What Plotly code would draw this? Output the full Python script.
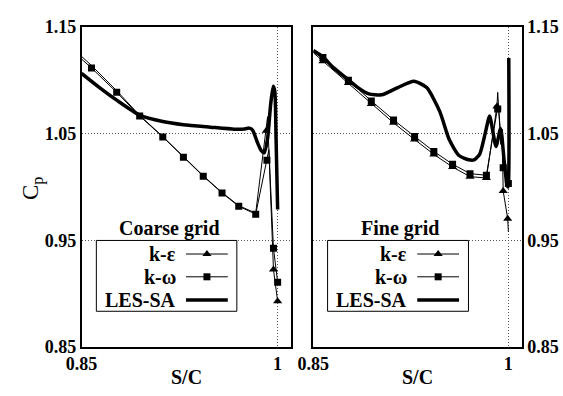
import plotly.graph_objects as go

# ---------------- data ----------------
# Coarse grid (left panel)
coarse_les_x = [0.85, 0.8635, 0.8769, 0.8945, 0.9122, 0.928, 0.9486, 0.967, 0.975, 0.9785,
                0.981, 0.9845, 0.9875, 0.990, 0.9925, 0.9948, 0.9968, 0.998, 0.999, 1.0002]
coarse_les_y = [1.1066, 1.0935, 1.0815, 1.0675, 1.0615, 1.0585, 1.0562, 1.0543, 1.0545, 1.0553,
                1.0535, 1.0425, 1.0345, 1.0322, 1.0455, 1.077, 1.0945, 1.09, 1.045, 0.979]

coarse_kw_x = [0.85, 0.8576, 0.8769, 0.8945, 0.9122, 0.928, 0.9432, 0.9576, 0.9704, 0.9834,
               0.992, 0.9935, 0.997, 1.0002]
coarse_kw_y = [1.12, 1.1117, 1.0888, 1.0666, 1.0470, 1.028, 1.0102, 0.9945, 0.982, 0.9746,
               1.0251, 1.035, 0.9426, 0.9108]
coarse_kw_mx = [0.8576, 0.8769, 0.8945, 0.9122, 0.928, 0.9432, 0.9576, 0.9704, 0.9834,
                0.992, 0.997, 1.0002]
coarse_kw_my = [1.1117, 1.0888, 1.0666, 1.0470, 1.028, 1.0102, 0.9945, 0.982, 0.9746,
                1.0251, 0.9426, 0.9108]

coarse_ke_x = [0.85, 0.8576, 0.8769, 0.8945, 0.9122, 0.928, 0.9432, 0.9576, 0.9704, 0.9834,
               0.9915, 0.9925, 0.997, 1.0002]
coarse_ke_y = [1.1225, 1.114, 1.0903, 1.0672, 1.0474, 1.0284, 1.0106, 0.9949, 0.9826, 0.9756,
               1.0527, 1.066, 0.9227, 0.893]
coarse_ke_mx = [0.9915, 0.997, 1.0002]
coarse_ke_my = [1.0527, 0.9227, 0.893]

# Fine grid (right panel)
fine_les_x = [0.85, 0.8574, 0.865, 0.877, 0.8846, 0.8926, 0.9025, 0.915, 0.9273, 0.9372,
              0.9472, 0.9546, 0.962, 0.9695, 0.9735, 0.978, 0.9825, 0.9856, 0.9905, 0.994,
              0.9968, 0.9988, 0.9998, 1.0003]
fine_les_y = [1.128, 1.122, 1.1125, 1.1005, 1.093, 1.0874, 1.0865, 1.0933, 1.0993, 1.0933,
              1.071, 1.0443, 1.0296, 1.0256, 1.0255, 1.031, 1.052, 1.0666, 1.038, 1.055,
              1.024, 1.003, 1.0, 1.121]

fine_kw_x = [0.85, 0.8574, 0.877, 0.8946, 0.9117, 0.9279, 0.9427, 0.9571, 0.9705, 0.9831,
             0.9918, 0.9922, 0.9945, 0.9955, 0.996, 1.0]
fine_kw_y = [1.1275, 1.1215, 1.1001, 1.0808, 1.063, 1.0474, 1.0334, 1.0215, 1.0126, 1.0111,
             1.0732, 1.078, 1.043, 1.054, 1.0182, 1.0034]
fine_kw_mx = [0.8574, 0.877, 0.8946, 0.9117, 0.9279, 0.9427, 0.9571, 0.9705, 0.9831,
              0.9918, 0.996, 1.0]
fine_kw_my = [1.1215, 1.1001, 1.0808, 1.063, 1.0474, 1.0334, 1.0215, 1.0126, 1.0111,
              1.0732, 1.0182, 1.0034]

fine_ke_x = [0.85, 0.8574, 0.877, 0.8946, 0.9117, 0.9279, 0.9427, 0.9571, 0.9705, 0.9831,
             0.9912, 0.9918, 0.9942, 0.9952, 0.996, 0.9995, 1.0]
fine_ke_y = [1.126, 1.118, 1.0975, 1.078, 1.0602, 1.0446, 1.0306, 1.0188, 1.0098, 1.0085,
             1.0755, 1.0888, 1.04, 1.052, 0.9963, 0.9702, 0.958]
fine_ke_mx = [0.8574, 0.877, 0.8946, 0.9117, 0.9279, 0.9427, 0.9571, 0.9705, 0.9831,
              0.9912, 0.996, 0.9995]
fine_ke_my = [1.118, 1.0975, 1.078, 1.0602, 1.0446, 1.0306, 1.0188, 1.0098, 1.0085,
              1.0755, 0.9963, 0.9702]

x_ticks = [0.85, 1.0]
x_ticktext = ["0.85", "1"]
y_ticks = [0.85, 0.95, 1.05, 1.15]
y_ticktext = ["0.85", "0.95", "1.05", "1.15"]
series_names = ["k-ε", "k-ω", "LES-SA"]
panel_titles = ["Coarse grid", "Fine grid"]

# ---------------- figure ----------------
W, H = 563, 396
FONT = "Liberation Serif"
fig = go.Figure()

def add_panel(xa, ya, ke, ke_m, kw, kw_m, les):
    fig.add_trace(go.Scatter(x=ke[0], y=ke[1], mode="lines", line=dict(color="black", width=1),
                             xaxis=xa, yaxis=ya, showlegend=False, hoverinfo="skip"))
    fig.add_trace(go.Scatter(x=ke_m[0], y=ke_m[1], mode="markers",
                             marker=dict(symbol="triangle-up", size=8, color="black"),
                             xaxis=xa, yaxis=ya, showlegend=False, hoverinfo="skip"))
    fig.add_trace(go.Scatter(x=kw[0], y=kw[1], mode="lines", line=dict(color="black", width=1),
                             xaxis=xa, yaxis=ya, showlegend=False, hoverinfo="skip"))
    fig.add_trace(go.Scatter(x=kw_m[0], y=kw_m[1], mode="markers",
                             marker=dict(symbol="square", size=7, color="black"),
                             xaxis=xa, yaxis=ya, showlegend=False, hoverinfo="skip"))
    fig.add_trace(go.Scatter(x=les[0], y=les[1], mode="lines",
                             line=dict(color="black", width=3.5, shape="spline", smoothing=0.6),
                             xaxis=xa, yaxis=ya, showlegend=False, hoverinfo="skip"))

add_panel("x", "y", (coarse_ke_x, coarse_ke_y), (coarse_ke_mx, coarse_ke_my),
          (coarse_kw_x, coarse_kw_y), (coarse_kw_mx, coarse_kw_my), (coarse_les_x, coarse_les_y))
add_panel("x2", "y2", (fine_ke_x, fine_ke_y), (fine_ke_mx, fine_ke_my),
          (fine_kw_x, fine_kw_y), (fine_kw_mx, fine_kw_my), (fine_les_x, fine_les_y))

# legend boxes drawn in a pixel overlay axis (x3/y3)
legend_cfg = [
    dict(box=(82.7, 227.3), label_right=166.7, key=(175, 218), title_x=157.7),
    dict(box=(320.7, 465.7), label_right=405, key=(413, 456), title_x=395),
]
row_y = [257, 281, 305.5]
box_y = (242.7, 317.3)
title_y = 230
tfont = dict(family=FONT, size=18, color="black", weight="bold")
lfont = dict(family=FONT, size=20, color="black", weight="bold")

annotations = []
shapes = []
for p, cfg in enumerate(legend_cfg):
    shapes.append(dict(type="rect", xref="x3", yref="y3", x0=cfg["box"][0], x1=cfg["box"][1],
                       y0=box_y[0], y1=box_y[1], line=dict(color="black", width=1),
                       fillcolor="white", layer="below"))
    annotations.append(dict(xref="x3", yref="y3", x=cfg["title_x"], y=title_y, text=panel_titles[p],
                            showarrow=False, font=lfont, xanchor="center", yanchor="middle"))
    for i, name in enumerate(series_names):
        annotations.append(dict(xref="x3", yref="y3", x=cfg["label_right"], y=row_y[i], text=name,
                                showarrow=False, font=lfont, xanchor="right", yanchor="middle"))
        k0, k1 = cfg["key"]
        width = 3.5 if i == 2 else 1
        fig.add_trace(go.Scatter(x=[k0, k1], y=[row_y[i], row_y[i]], mode="lines",
                                 line=dict(color="black", width=width), xaxis="x3", yaxis="y3",
                                 showlegend=False, hoverinfo="skip"))
        if i < 2:
            fig.add_trace(go.Scatter(x=[(k0 + k1) / 2], y=[row_y[i]], mode="markers",
                                     marker=dict(symbol="triangle-up" if i == 0 else "square",
                                                 size=8 if i == 0 else 7, color="black"),
                                     xaxis="x3", yaxis="y3", showlegend=False, hoverinfo="skip"))

# axis titles
annotations.append(dict(xref="paper", yref="paper", x=17 / W, y=1 - 188 / H, text="C<sub>p</sub>",
                        textangle=-90, showarrow=False, font=dict(family=FONT, size=23, color="black"),
                        xanchor="center", yanchor="middle"))
for cx in [175.3, 413.3]:
    annotations.append(dict(xref="paper", yref="paper", x=cx / W, y=1 - 386 / H, text="S/C",
                            showarrow=False, font=lfont, xanchor="center", yanchor="middle"))

common_x = dict(range=[0.85, 1.0104], tickvals=x_ticks, ticktext=x_ticktext, showgrid=True,
                griddash="1px,2px", gridcolor="#555", gridwidth=1, zeroline=False, showline=True,
                linecolor="black", linewidth=1.5, mirror=True, ticks="", tickfont=tfont,
                fixedrange=True)
common_y = dict(range=[0.85, 1.15], tickvals=y_ticks, ticktext=y_ticktext, showgrid=True,
                griddash="1px,2px", gridcolor="#555", gridwidth=1, zeroline=False, showline=True,
                linecolor="black", linewidth=1.5, mirror=True, ticks="", tickfont=tfont,
                fixedrange=True)
ydom = [1 - 355 / H, 1 - 18 / H]

fig.update_layout(
    width=W, height=H, margin=dict(l=0, r=0, t=0, b=0),
    paper_bgcolor="white", plot_bgcolor="rgba(0,0,0,0)",
    showlegend=False,
    xaxis=dict(domain=[67.5 / W, 283 / W], anchor="y", **common_x),
    yaxis=dict(domain=ydom, anchor="x", side="left", **common_y),
    xaxis2=dict(domain=[306 / W, 520.7 / W], anchor="y2", **common_x),
    yaxis2=dict(domain=ydom, anchor="x2", side="right", **common_y),
    xaxis3=dict(domain=[0, 1], range=[0, W], visible=False, fixedrange=True, anchor="y3"),
    yaxis3=dict(domain=[0, 1], range=[H, 0], visible=False, fixedrange=True, anchor="x3"),
    shapes=shapes, annotations=annotations,
)

fig.write_html("out.html")
